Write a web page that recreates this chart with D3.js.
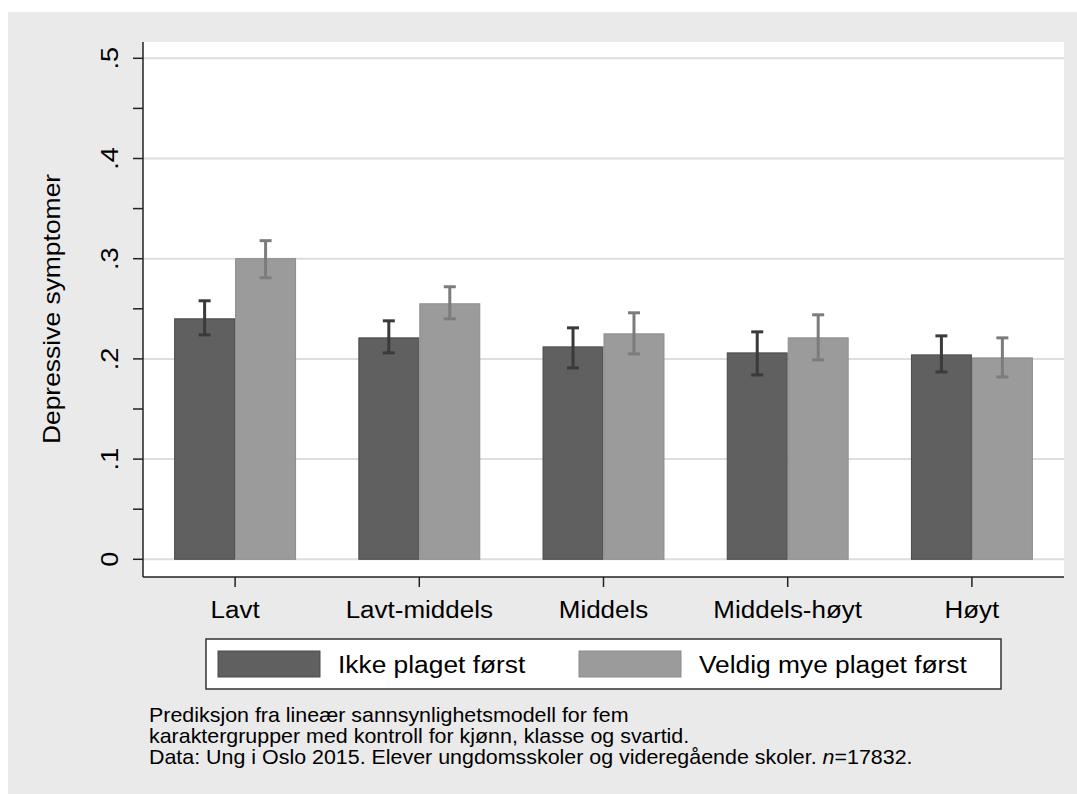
<!DOCTYPE html>
<html>
<head>
<meta charset="utf-8">
<script src="https://cdn.jsdelivr.net/npm/d3@7"></script>
<style>
	body { margin: 0; padding: 0; background: #fff; }
	svg { display: block; }
	text { font-family: 'Liberation Sans', Arial, sans-serif; fill: #000; }
</style>
</head>
<body>
<div id="chart"></div>
<script>
// Chart data
var CATEGORIES = ['Lavt', 'Lavt-middels', 'Middels', 'Middels-høyt', 'Høyt'];
var SERIES_NAMES = ['Ikke plaget først', 'Veldig mye plaget først'];

var IKKE_VALUES = [0.240, 0.221, 0.212, 0.206, 0.204];
var IKKE_LOW = [0.224, 0.206, 0.191, 0.184, 0.187];
var IKKE_HIGH = [0.258, 0.238, 0.231, 0.227, 0.223];

var VELDIG_VALUES = [0.300, 0.255, 0.225, 0.221, 0.201];
var VELDIG_LOW = [0.281, 0.240, 0.205, 0.199, 0.182];
var VELDIG_HIGH = [0.318, 0.272, 0.246, 0.244, 0.221];

var Y_TICKS = [0, 0.1, 0.2, 0.3, 0.4, 0.5];
var Y_TICK_LABELS = ['0', '.1', '.2', '.3', '.4', '.5'];
var Y_MINOR_TICKS = [0.05, 0.15, 0.25, 0.35, 0.45];

var Y_TITLE = 'Depressive symptomer';
var NOTE_LINES = [
	'Prediksjon fra lineær sannsynlighetsmodell for fem',
	'karaktergrupper med kontroll for kjønn, klasse og svartid.'
];
var NOTE_DATA = 'Data: Ung i Oslo 2015. Elever ungdomsskoler og videregående skoler. ';
var NOTE_N = '=17832.';

var WIDTH = 1077;
var HEIGHT = 794;
var STRETCH = 1.13; // text in the source is a bit wider than Arial

var COLORS = {
	bg: '#eaeaea',
	dark: '#606060',
	darkStroke: '#4a4a4a',
	darkErr: '#3a3a3a',
	light: '#9b9b9b',
	lightStroke: '#8c8c8c',
	lightErr: '#7c7c7c',
	grid: '#dedede'
};

/*
 * Place a text with the source's horizontal stretch.
 */
var placeText = function(sel, x, y, rot, stretch) {
	sel.attr('transform',
		'translate(' + x + ',' + y + ')' +
		(rot ? ' rotate(' + rot + ')' : '') +
		' scale(' + (stretch || STRETCH) + ',1)');
	return sel;
};

var render = function() {
	var plot = { left: 143, right: 1064, top: 42, bottom: 577 };

	var svg = d3.select('#chart')
		.append('svg')
		.attr('width', WIDTH)
		.attr('height', HEIGHT);

	// background
	svg.append('rect')
		.attr('x', 8).attr('y', 12)
		.attr('width', WIDTH - 8).attr('height', HEIGHT - 12)
		.attr('fill', COLORS.bg);

	svg.append('rect')
		.attr('x', plot.left).attr('y', plot.top)
		.attr('width', plot.right - plot.left)
		.attr('height', plot.bottom - plot.top)
		.attr('fill', '#fff');

	/*
	 * Scales
	 */
	var xScale = d3.scaleBand()
		.domain(CATEGORIES)
		.range([plot.left, plot.right])
		.paddingInner(0.338)
		.paddingOuter(0.169);

	var subScale = d3.scaleBand()
		.domain([0, 1])
		.range([0, xScale.bandwidth()]);

	var yScale = d3.scaleLinear()
		.domain([0, 0.5])
		.range([559.3, 58.3]);

	/*
	 * Grid
	 */
	svg.append('g')
		.attr('class', 'y grid')
		.selectAll('line')
		.data(Y_TICKS)
		.enter()
		.append('line')
		.attr('x1', plot.left)
		.attr('x2', plot.right)
		.attr('y1', function(d) { return yScale(d); })
		.attr('y2', function(d) { return yScale(d); })
		.attr('stroke', COLORS.grid)
		.attr('stroke-width', 2);

	/*
	 * Bars + error bars
	 */
	var series = [
		{ name: SERIES_NAMES[0], values: IKKE_VALUES, low: IKKE_LOW, high: IKKE_HIGH,
			fill: COLORS.dark, stroke: COLORS.darkStroke, err: COLORS.darkErr },
		{ name: SERIES_NAMES[1], values: VELDIG_VALUES, low: VELDIG_LOW, high: VELDIG_HIGH,
			fill: COLORS.light, stroke: COLORS.lightStroke, err: COLORS.lightErr }
	];

	series.forEach(function(s, si) {
		var rows = CATEGORIES.map(function(c, i) {
			return { cat: c, value: s.values[i], low: s.low[i], high: s.high[i] };
		});

		var g = svg.append('g').attr('class', 'bars s' + si);

		g.selectAll('rect')
			.data(rows)
			.enter()
			.append('rect')
			.attr('x', function(d) { return xScale(d.cat) + subScale(si) + 0.5; })
			.attr('width', subScale.bandwidth() - 1)
			.attr('y', function(d) { return yScale(d.value); })
			.attr('height', function(d) { return yScale(0) - yScale(d.value); })
			.attr('fill', s.fill)
			.attr('stroke', s.stroke)
			.attr('stroke-width', 1);

		var cx = function(d) { return xScale(d.cat) + subScale(si) + subScale.bandwidth() / 2; };

		var eg = svg.append('g').attr('class', 'errors s' + si)
			.attr('stroke', s.err)
			.attr('stroke-width', 3);

		eg.selectAll('line.stem')
			.data(rows).enter().append('line')
			.attr('class', 'stem')
			.attr('x1', cx).attr('x2', cx)
			.attr('y1', function(d) { return yScale(d.low); })
			.attr('y2', function(d) { return yScale(d.high); });

		['low', 'high'].forEach(function(k) {
			eg.selectAll('line.cap-' + k)
				.data(rows).enter().append('line')
				.attr('class', 'cap-' + k)
				.attr('x1', function(d) { return cx(d) - 6; })
				.attr('x2', function(d) { return cx(d) + 6; })
				.attr('y1', function(d) { return yScale(d[k]); })
				.attr('y2', function(d) { return yScale(d[k]); });
		});
	});

	/*
	 * Axes
	 */
	var yAxis = svg.append('g').attr('class', 'y axis');

	yAxis.append('line')
		.attr('x1', plot.left).attr('x2', plot.left)
		.attr('y1', plot.top).attr('y2', plot.bottom)
		.attr('stroke', '#222').attr('stroke-width', 1.5);

	yAxis.selectAll('line.tick')
		.data(Y_TICKS.concat(Y_MINOR_TICKS))
		.enter().append('line')
		.attr('class', 'tick')
		.attr('x1', plot.left - 10).attr('x2', plot.left)
		.attr('y1', function(d) { return yScale(d); })
		.attr('y2', function(d) { return yScale(d); })
		.attr('stroke', '#222').attr('stroke-width', 1.5);

	yAxis.selectAll('text')
		.data(Y_TICKS)
		.enter().append('text')
		.attr('text-anchor', 'middle')
		.attr('font-size', 24)
		.text(function(d, i) { return Y_TICK_LABELS[i]; })
		.each(function(d) {
			placeText(d3.select(this), 118, yScale(d), -90);
		});

	placeText(svg.append('text')
		.attr('class', 'y title')
		.attr('text-anchor', 'middle')
		.attr('font-size', 23)
		.text(Y_TITLE), 60, 309, -90, 1.15);

	var xAxis = svg.append('g').attr('class', 'x axis');

	xAxis.append('line')
		.attr('x1', plot.left).attr('x2', plot.right)
		.attr('y1', plot.bottom).attr('y2', plot.bottom)
		.attr('stroke', '#222').attr('stroke-width', 1.5);

	xAxis.selectAll('line.tick')
		.data(CATEGORIES)
		.enter().append('line')
		.attr('class', 'tick')
		.attr('x1', function(d) { return xScale(d) + xScale.bandwidth() / 2; })
		.attr('x2', function(d) { return xScale(d) + xScale.bandwidth() / 2; })
		.attr('y1', plot.bottom).attr('y2', plot.bottom + 10)
		.attr('stroke', '#222').attr('stroke-width', 1.5);

	xAxis.selectAll('text')
		.data(CATEGORIES)
		.enter().append('text')
		.attr('text-anchor', 'middle')
		.attr('font-size', 23)
		.text(function(d) { return d; })
		.each(function(d) {
			placeText(d3.select(this), xScale(d) + xScale.bandwidth() / 2, 618);
		});

	/*
	 * Legend
	 */
	var legend = svg.append('g').attr('class', 'legend');

	legend.append('rect')
		.attr('x', 206).attr('y', 639)
		.attr('width', 795).attr('height', 50)
		.attr('fill', '#fff')
		.attr('stroke', '#333').attr('stroke-width', 1.5);

	var legendX = [218, 579];
	series.forEach(function(s, i) {
		legend.append('rect')
			.attr('x', legendX[i]).attr('y', 651)
			.attr('width', 102).attr('height', 26)
			.attr('fill', s.fill)
			.attr('stroke', s.stroke).attr('stroke-width', 1);

		placeText(legend.append('text')
			.attr('font-size', 23)
			.text(s.name), legendX[i] + 120, 673, 0, 1.145);
	});

	/*
	 * Note
	 */
	var note = svg.append('g').attr('class', 'note');

	NOTE_LINES.forEach(function(line, i) {
		placeText(note.append('text')
			.attr('font-size', 20.5)
			.text(line), 149, 722 + i * 21, 0, 1.045);
	});

	var last = placeText(note.append('text').attr('font-size', 20.5), 149, 764, 0, 1.045);
	last.append('tspan').text(NOTE_DATA);
	last.append('tspan').attr('font-style', 'italic').text('n');
	last.append('tspan').text(NOTE_N);
};

window.onload = render;
</script>
</body>
</html>
